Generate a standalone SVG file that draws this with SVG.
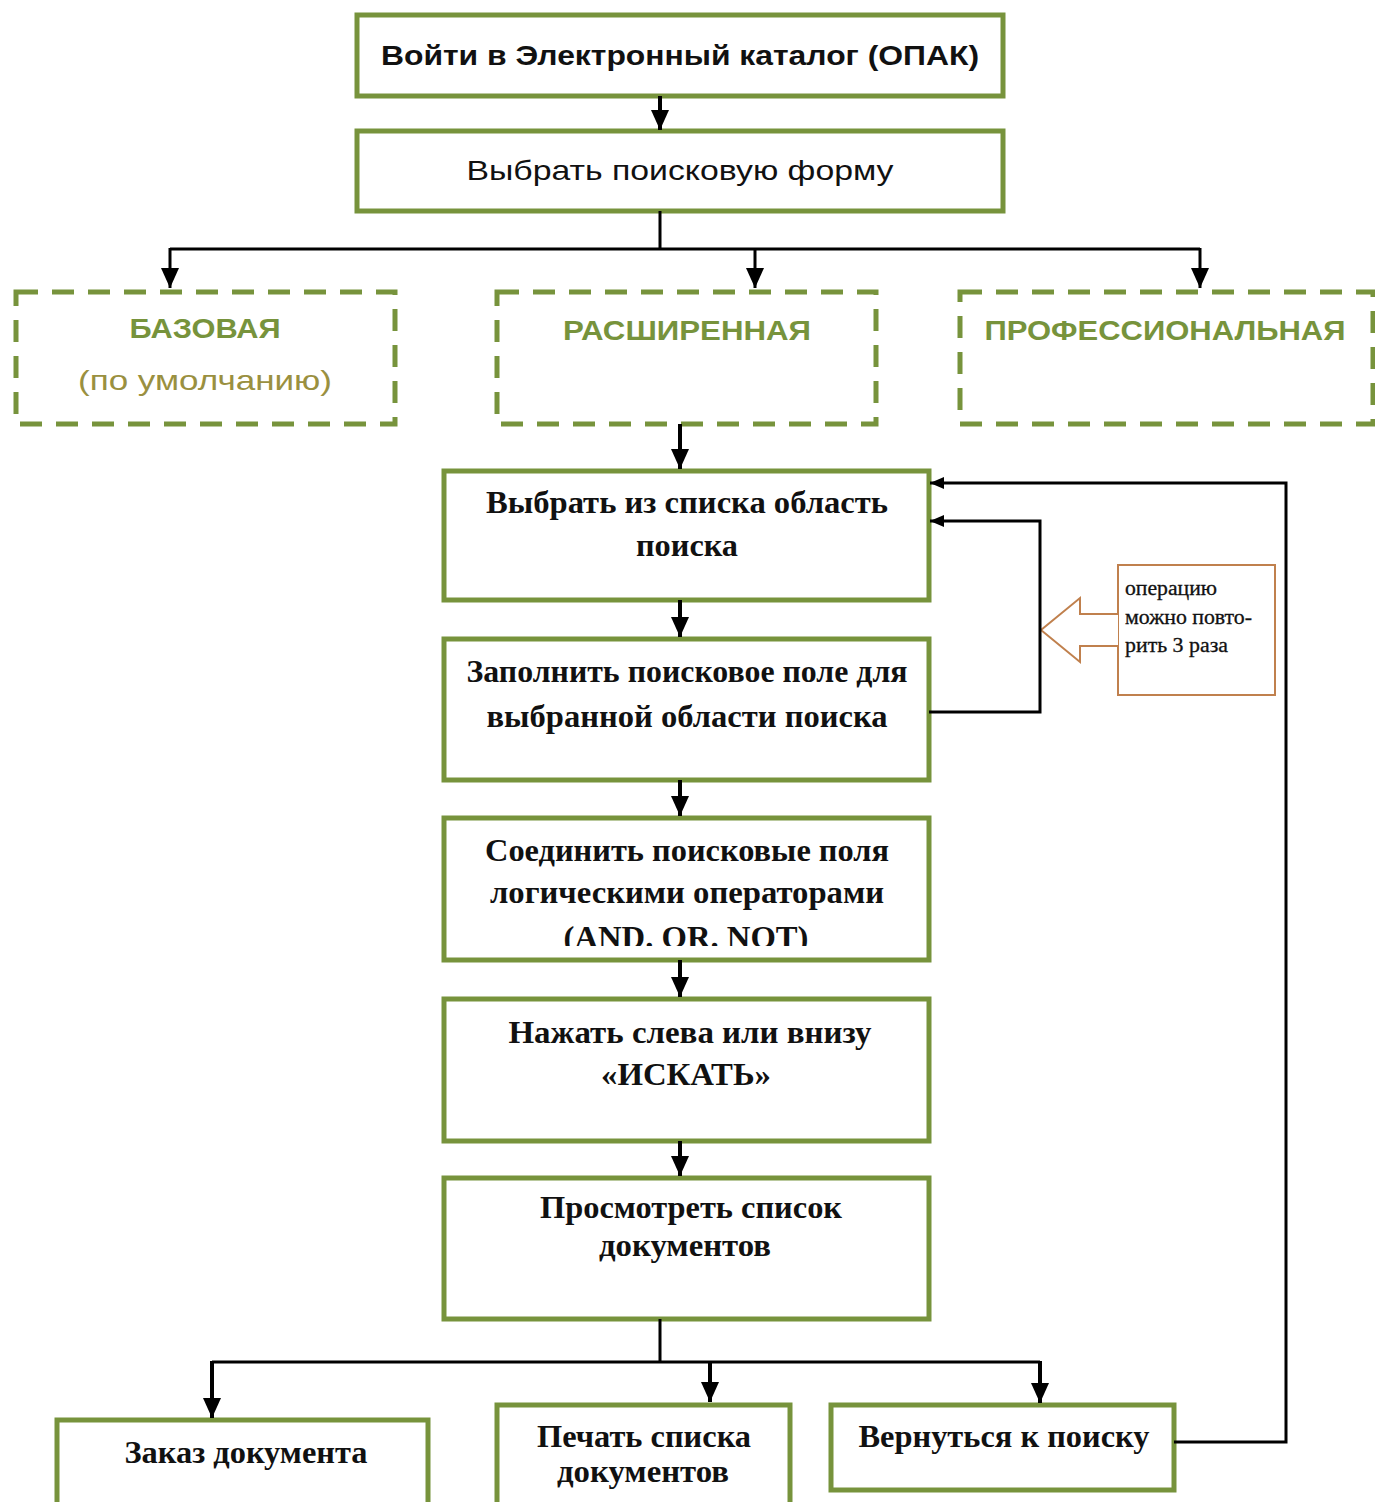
<svg xmlns="http://www.w3.org/2000/svg" width="1375" height="1502" viewBox="0 0 1375 1502">
<style>
.box{fill:#fff;stroke:#77933C;stroke-width:5}
.dash{fill:#fff;stroke:#77933C;stroke-width:5;stroke-dasharray:22 14}
.sans{font-family:"Liberation Sans","Open Sans",sans-serif;font-size:28px;fill:#111}
.sb{font-weight:bold}
.gr{fill:#77933C;font-weight:bold;font-size:27px}
.ol{fill:#9A9040;font-size:28px}
.ser{font-family:"Liberation Serif","DejaVu Serif",serif;font-weight:bold;font-size:32px;fill:#111}
.note{font-family:"Liberation Serif","DejaVu Serif",serif;font-size:20px;fill:#111;stroke:#111;stroke-width:0.3}
.ln{fill:none;stroke:#000;stroke-width:3}
.lt{fill:none;stroke:#000;stroke-width:4}
</style>
<defs>
<marker id="ah" viewBox="0 0 20 18" refX="20" refY="9" markerWidth="20" markerHeight="18" orient="auto" markerUnits="userSpaceOnUse"><path d="M0,0 L20,9 L0,18 z" fill="#000"/></marker>
<marker id="as" viewBox="0 0 14 12" refX="14" refY="6" markerWidth="14" markerHeight="12" orient="auto" markerUnits="userSpaceOnUse"><path d="M0,0 L14,6 L0,12 z" fill="#000"/></marker>
<clipPath id="c5"><rect x="444" y="818" width="485" height="128"/></clipPath>
</defs>

<g id="n1"><rect class="box" x="357" y="15" width="646" height="81"/>
<text class="sans sb" x="680" y="65" text-anchor="middle" textLength="598" lengthAdjust="spacingAndGlyphs">Войти в Электронный каталог (ОПАК)</text></g>
<g id="n2"><rect class="box" x="357" y="131" width="646" height="80"/>
<text class="sans" x="680" y="180" text-anchor="middle" textLength="427" lengthAdjust="spacingAndGlyphs">Выбрать поисковую форму</text></g>

<g id="n_base"><rect class="dash" x="16" y="292" width="379" height="132"/>
<text class="sans gr" x="205" y="338" text-anchor="middle" textLength="151" lengthAdjust="spacingAndGlyphs">БАЗОВАЯ</text>
<text class="sans ol" x="205" y="390" text-anchor="middle" textLength="254" lengthAdjust="spacingAndGlyphs">(по умолчанию)</text></g>
<g id="n_ext"><rect class="dash" x="497" y="292" width="379" height="132"/>
<text class="sans gr" x="687" y="340" text-anchor="middle" textLength="248" lengthAdjust="spacingAndGlyphs">РАСШИРЕННАЯ</text></g>
<g id="n_prof"><rect class="dash" x="960" y="292" width="413" height="132"/>
<text class="sans gr" x="1165" y="340" text-anchor="middle" textLength="361" lengthAdjust="spacingAndGlyphs">ПРОФЕССИОНАЛЬНАЯ</text></g>

<g id="n3"><rect class="box" x="444" y="471" width="485" height="129"/>
<text class="ser" x="687" y="513" text-anchor="middle" textLength="402" lengthAdjust="spacingAndGlyphs">Выбрать из списка область</text>
<text class="ser" x="687" y="556" text-anchor="middle" textLength="102" lengthAdjust="spacingAndGlyphs">поиска</text></g>
<g id="n4"><rect class="box" x="444" y="639" width="485" height="141"/>
<text class="ser" x="687" y="682" text-anchor="middle" textLength="441" lengthAdjust="spacingAndGlyphs">Заполнить поисковое поле для</text>
<text class="ser" x="687" y="727" text-anchor="middle" textLength="401" lengthAdjust="spacingAndGlyphs">выбранной области поиска</text></g>
<g id="n5"><rect class="box" x="444" y="818" width="485" height="142"/>
<text class="ser" x="687" y="861" text-anchor="middle" textLength="404" lengthAdjust="spacingAndGlyphs">Соединить поисковые поля</text>
<text class="ser" x="687" y="903" text-anchor="middle" textLength="394" lengthAdjust="spacingAndGlyphs">логическими операторами</text>
<text class="ser" x="686" y="948" text-anchor="middle" textLength="245" lengthAdjust="spacingAndGlyphs" clip-path="url(#c5)">(AND. OR. NOT)</text></g>
<g id="n6"><rect class="box" x="444" y="999" width="485" height="142"/>
<text class="ser" x="690" y="1043" text-anchor="middle" textLength="363" lengthAdjust="spacingAndGlyphs">Нажать слева или внизу</text>
<text class="ser" x="686" y="1085" text-anchor="middle" textLength="170" lengthAdjust="spacingAndGlyphs">«ИСКАТЬ»</text></g>
<g id="n7"><rect class="box" x="444" y="1178" width="485" height="141"/>
<text class="ser" x="691" y="1218" text-anchor="middle" textLength="302" lengthAdjust="spacingAndGlyphs">Просмотреть список</text>
<text class="ser" x="685" y="1256" text-anchor="middle" textLength="172" lengthAdjust="spacingAndGlyphs">документов</text></g>

<g id="n8"><rect class="box" x="57" y="1420" width="371" height="95"/>
<text class="ser" x="246" y="1463" text-anchor="middle" textLength="243" lengthAdjust="spacingAndGlyphs">Заказ документа</text></g>
<g id="n9"><rect class="box" x="497" y="1405" width="293" height="110"/>
<text class="ser" x="644" y="1447" text-anchor="middle" textLength="214" lengthAdjust="spacingAndGlyphs">Печать списка</text>
<text class="ser" x="643" y="1482" text-anchor="middle" textLength="172" lengthAdjust="spacingAndGlyphs">документов</text></g>
<g id="n10"><rect class="box" x="831" y="1405" width="343" height="85"/>
<text class="ser" x="1004" y="1447" text-anchor="middle" textLength="291" lengthAdjust="spacingAndGlyphs">Вернуться к поиску</text></g>

<g id="note"><rect x="1118" y="565" width="157" height="130" fill="#fff" stroke="#C0804D" stroke-width="2"/>
<path d="M1118,614 L1080,614 L1080,598 L1041,630 L1080,662 L1080,646 L1118,646" fill="#fff" stroke="#C0804D" stroke-width="2"/>
<text class="note" x="1125" y="595" textLength="92" lengthAdjust="spacingAndGlyphs">операцию</text>
<text class="note" x="1125" y="624" textLength="127" lengthAdjust="spacingAndGlyphs">можно повто-</text>
<text class="note" x="1125" y="652" textLength="103" lengthAdjust="spacingAndGlyphs">рить 3 раза</text></g>

<g id="connectors">
<path class="lt" d="M660,96 V130" marker-end="url(#ah)"/>
<path class="ln" d="M660,211 V249 M170,249 H1200"/>
<path class="ln" d="M170,248 V288" marker-end="url(#ah)"/>
<path class="ln" d="M755,248 V288" marker-end="url(#ah)"/>
<path class="ln" d="M1200,248 V288" marker-end="url(#ah)"/>
<path class="lt" d="M680,424 V469" marker-end="url(#ah)"/>
<path class="lt" d="M680,600 V637" marker-end="url(#ah)"/>
<path class="lt" d="M680,780 V816" marker-end="url(#ah)"/>
<path class="lt" d="M680,960 V997" marker-end="url(#ah)"/>
<path class="lt" d="M680,1141 V1176" marker-end="url(#ah)"/>
<path class="ln" d="M660,1319 V1362 M212,1362 H1040"/>
<path class="lt" d="M212,1361 V1418" marker-end="url(#ah)"/>
<path class="lt" d="M710,1361 V1402" marker-end="url(#ah)"/>
<path class="lt" d="M1040,1361 V1403" marker-end="url(#ah)"/>
<path class="ln" d="M929,712 H1040 V521 H930" marker-end="url(#as)"/>
<path class="ln" d="M1174,1442 H1286 V483 H930" marker-end="url(#as)"/>
</g>
</svg>
